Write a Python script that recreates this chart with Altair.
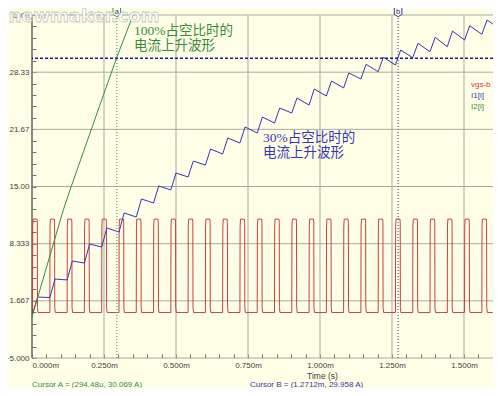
import altair as alt
import pandas as pd

# ---------------- values (time in ms) ----------------
pulse_start_ms = [0.002, 0.062, 0.122, 0.182, 0.242, 0.302, 0.362, 0.422, 0.482,
                  0.542, 0.602, 0.662, 0.722, 0.782, 0.842, 0.902, 0.962, 1.022,
                  1.082, 1.142, 1.202, 1.262, 1.322, 1.382, 1.442, 1.502, 1.562]
pulse_on_ms = 0.017
vgs_low = 0.3
vgs_high = 11.2
vgs_end_ms = 1.600

# I1 (30% duty): value at start of each pulse (trough) and at its end (peak)
i1_trough = [0.2, 2.05, 4.10, 6.08, 7.94, 9.69, 11.44, 13.08, 14.60, 16.11, 17.50,
             18.79, 20.07, 21.24, 22.40, 23.57, 24.50, 25.55, 26.50, 27.54, 28.39,
             29.17, 30.02, 30.72, 31.30, 32.08, 32.75]
i1_peak = [2.11, 4.21, 6.31, 8.29, 10.16, 11.91, 13.54, 15.06, 16.57, 17.97, 19.37,
           20.66, 21.94, 23.10, 24.15, 25.32, 26.37, 27.30, 28.24, 29.25, 30.07,
           30.92, 31.70, 32.40, 33.13, 33.75, 34.42]
i1_rise_ms = 0.018
i1_last_t = 1.600
i1_last_v = 33.95

# I2 (100% duty)
i2_time = [0.0, 0.109, 0.132, 0.242, 0.2945, 0.351]
i2_value = [-0.2, 12.3, 14.6, 25.1, 30.07, 35.0]

series_names = ["vgs-b", "I1[i]", "I2[i]"]
series_colors = ["#C8403C", "#3434B4", "#3A8A3A"]

cursor_labels = ["a", "b"]
cursor_time = [0.29448, 1.2712]
cursor_value = [30.069, 29.958]
cursor_texts = ["Cursor A = (294.48u, 30.069 A)", "Cursor B = (1.2712m, 29.958 A)"]

x_major = [0.0, 0.25, 0.5, 0.75, 1.0, 1.25, 1.5]
y_major = [-5.0, 1.6667, 8.3333, 15.0, 21.6667, 28.3333, 35.0]

note_lines = ["100%占空比时的", "电流上升波形", "30%占空比时的", "电流上升波形"]
note_time = [0.354, 0.354, 0.802, 0.802]
note_value = [33.1, 31.4, 20.7, 18.9]
note_series = ["I2[i]", "I2[i]", "I1[i]", "I1[i]"]

# ---------------- tables ----------------
vgs_rows = [(0.0, vgs_low)]
for ts in pulse_start_ms:
    te = ts + pulse_on_ms
    vgs_rows += [(ts, vgs_low), (ts + 0.0006, vgs_high - 0.9), (ts + 0.002, vgs_high),
                 (te - 0.0015, vgs_high), (te - 0.0005, vgs_high - 0.4),
                 (te, vgs_low + 0.6), (te + 0.002, vgs_low)]
vgs_rows.append((vgs_end_ms, vgs_low))
vgs_df = pd.DataFrame(vgs_rows, columns=["t", "v"])
vgs_df["series"] = "vgs-b"
vgs_df["i"] = range(len(vgs_df))

i1_rows = [(0.0, i1_trough[0])]
for ts, lo, hi in zip(pulse_start_ms, i1_trough, i1_peak):
    i1_rows += [(ts, lo), (ts + i1_rise_ms, hi)]
i1_rows.append((i1_last_t, i1_last_v))
i1_df = pd.DataFrame(i1_rows, columns=["t", "v"])
i1_df["series"] = "I1[i]"
i1_df["i"] = range(len(i1_df))

i2_df = pd.DataFrame({"t": i2_time, "v": i2_value, "series": "I2[i]"})
i2_df["i"] = range(len(i2_df))

cur_df = pd.DataFrame({"name": cursor_labels, "t": cursor_time, "v": cursor_value,
                       "txt": cursor_texts})
note_df = pd.DataFrame({"txt": note_lines, "t": note_time, "v": note_value,
                        "series": note_series})
leg_df = pd.DataFrame({"series": series_names})

# ---------------- encodings ----------------
LAB = "#404040"
FONT = "Liberation Sans"
NARROW = "Liberation Sans Narrow, Liberation Sans"
x_ticks = [round(0.05 * k, 2) for k in range(33)]
y_ticks = [-5 + k * 40 / 30 for k in range(31)]

x_axis = alt.Axis(values=x_ticks, grid=False, domain=False, offset=-4, tickSize=4,
                  tickColor="#707070", labelPadding=3, labelFontSize=8, labelFont=FONT,
                  labelColor=LAB, labelOverlap=False, labelFlush=True,
                  labelExpr="abs(datum.value*4 - round(datum.value*4)) < 0.001 ? format(datum.value, '.3f') + 'm' : ''",
                  title="Time (s)", titleX=290, titleY=21, titleAlign="center",
                  titleBaseline="middle", titleFont=FONT, titleFontSize=8.5,
                  titleFontWeight="normal", titleColor=LAB)
y_axis = alt.Axis(values=y_ticks, grid=False, domain=False, offset=-4, tickSize=4,
                  tickColor="#707070", labelPadding=3, labelFontSize=8, labelFont=NARROW,
                  labelColor=LAB, labelOverlap=False,
                  labelExpr="abs((datum.value+5)*0.15 - round((datum.value+5)*0.15)) < 0.001 ? format(datum.value, '.4r') : ''",
                  title=None)

xs = alt.Scale(domain=[0, 1.6007], nice=False, zero=False)
ys = alt.Scale(domain=[-5, 35], nice=False, zero=False)
cs = alt.Scale(domain=series_names, range=series_colors)

X = alt.X("t:Q", scale=xs, axis=x_axis)
Y = alt.Y("v:Q", scale=ys, axis=y_axis)
C = alt.Color("series:N", scale=cs, legend=None)

GRID = "#A9A9A0"
grid_v = alt.Chart(pd.DataFrame({"t": x_major})).mark_rule(color=GRID, strokeWidth=1).encode(x=X)
grid_h = alt.Chart(pd.DataFrame({"v": y_major})).mark_rule(color=GRID, strokeWidth=1).encode(y=Y)
left_line = alt.Chart(pd.DataFrame({"t": [0.0]})).mark_rule(color="#707070", strokeWidth=1.5).encode(x=X)

def series_line(df):
    return alt.Chart(df).mark_line(strokeWidth=1).encode(x=X, y=Y, color=C, order="i:Q")

red = series_line(vgs_df)
blue = series_line(i1_df)
green = series_line(i2_df)

cur_a = alt.Chart(cur_df).transform_filter("datum.name == 'a'").mark_rule(
    color="#6E8E6E", strokeDash=[1, 2], strokeWidth=1.2).encode(x=X)
cur_b = alt.Chart(cur_df).transform_filter("datum.name == 'b'").mark_rule(
    color="#4A5AA0", strokeDash=[1, 2], strokeWidth=1.2).encode(x=X)
hline = alt.Chart(cur_df).transform_filter("datum.name == 'b'").mark_rule(
    color="#1C1C88", strokeDash=[3, 2], strokeWidth=1.5).encode(y=Y)

tag_shape = "M -0.8 -1 L 0.8 -1 L 0.8 0.5 L 0 1 L -0.8 0.5 Z"
tag_a = alt.Chart(cur_df).transform_filter("datum.name == 'a'").mark_point(
    shape=tag_shape, size=90, filled=True, fill="#FFFFF0", stroke="#3A8A3A",
    strokeWidth=1, opacity=1).encode(x=X, y=alt.value(-3))
tag_b = alt.Chart(cur_df).transform_filter("datum.name == 'b'").mark_point(
    shape=tag_shape, size=90, filled=True, fill="#FFFFF0", stroke="#3434B4",
    strokeWidth=1, opacity=1).encode(x=X, y=alt.value(-3))
tag_text = alt.Chart(cur_df).mark_text(font=FONT, fontSize=7.5, color="#303060",
                                       baseline="middle").encode(
    x=X, y=alt.value(-3.5), text="name:N")

notes = alt.Chart(note_df).mark_text(
    font="Liberation Serif, Noto Sans CJK SC", fontSize=13.5, align="left",
    baseline="middle").encode(x=X, y=Y, text="txt:N", color=C)

leg_layers = []
for k, name in enumerate(series_names):
    leg_layers.append(
        alt.Chart(leg_df).transform_filter(alt.datum.series == name).mark_text(
            font=FONT, fontSize=8, align="left", baseline="middle").encode(
            x=alt.value(439), y=alt.value(70 + 11 * k), text="series:N", color=C))

curtxt_a = alt.Chart(cur_df).transform_filter("datum.name == 'a'").mark_text(
    font=FONT, fontSize=8, align="left", baseline="alphabetic", color="#3A8A3A").encode(
    x=alt.value(0), y=alt.value(371.5), text="txt:N")
curtxt_b = alt.Chart(cur_df).transform_filter("datum.name == 'b'").mark_text(
    font=FONT, fontSize=8, align="left", baseline="alphabetic", color="#3434B4").encode(
    x=alt.value(218), y=alt.value(371.5), text="txt:N")

watermark = alt.Chart(pd.DataFrame({"w": ["newmaker.com"]})).mark_text(
    font="DejaVu Sans", fontSize=18, fontWeight="bold", fill="#FFFFFF",
    stroke="#BDBDB5", strokeWidth=0.8, opacity=0.85, align="center",
    baseline="middle").encode(x=alt.value(52), y=alt.value(1.5), text="w:N")

chart = alt.layer(
    grid_v, grid_h, left_line, red, blue, green, cur_a, cur_b, hline,
    notes, *leg_layers, curtxt_a, curtxt_b, tag_a, tag_b, tag_text, watermark
).properties(
    width=461, height=343,
    padding={"left": 24, "top": 7, "right": 0, "bottom": 30},
    autosize=alt.AutoSizeParams(type="none"),
    background="#FFFFE8",
).configure_view(stroke=None, fill="#FFFFE8")

chart.save("out.html", embed_options={"renderer": "svg", "actions": False})
